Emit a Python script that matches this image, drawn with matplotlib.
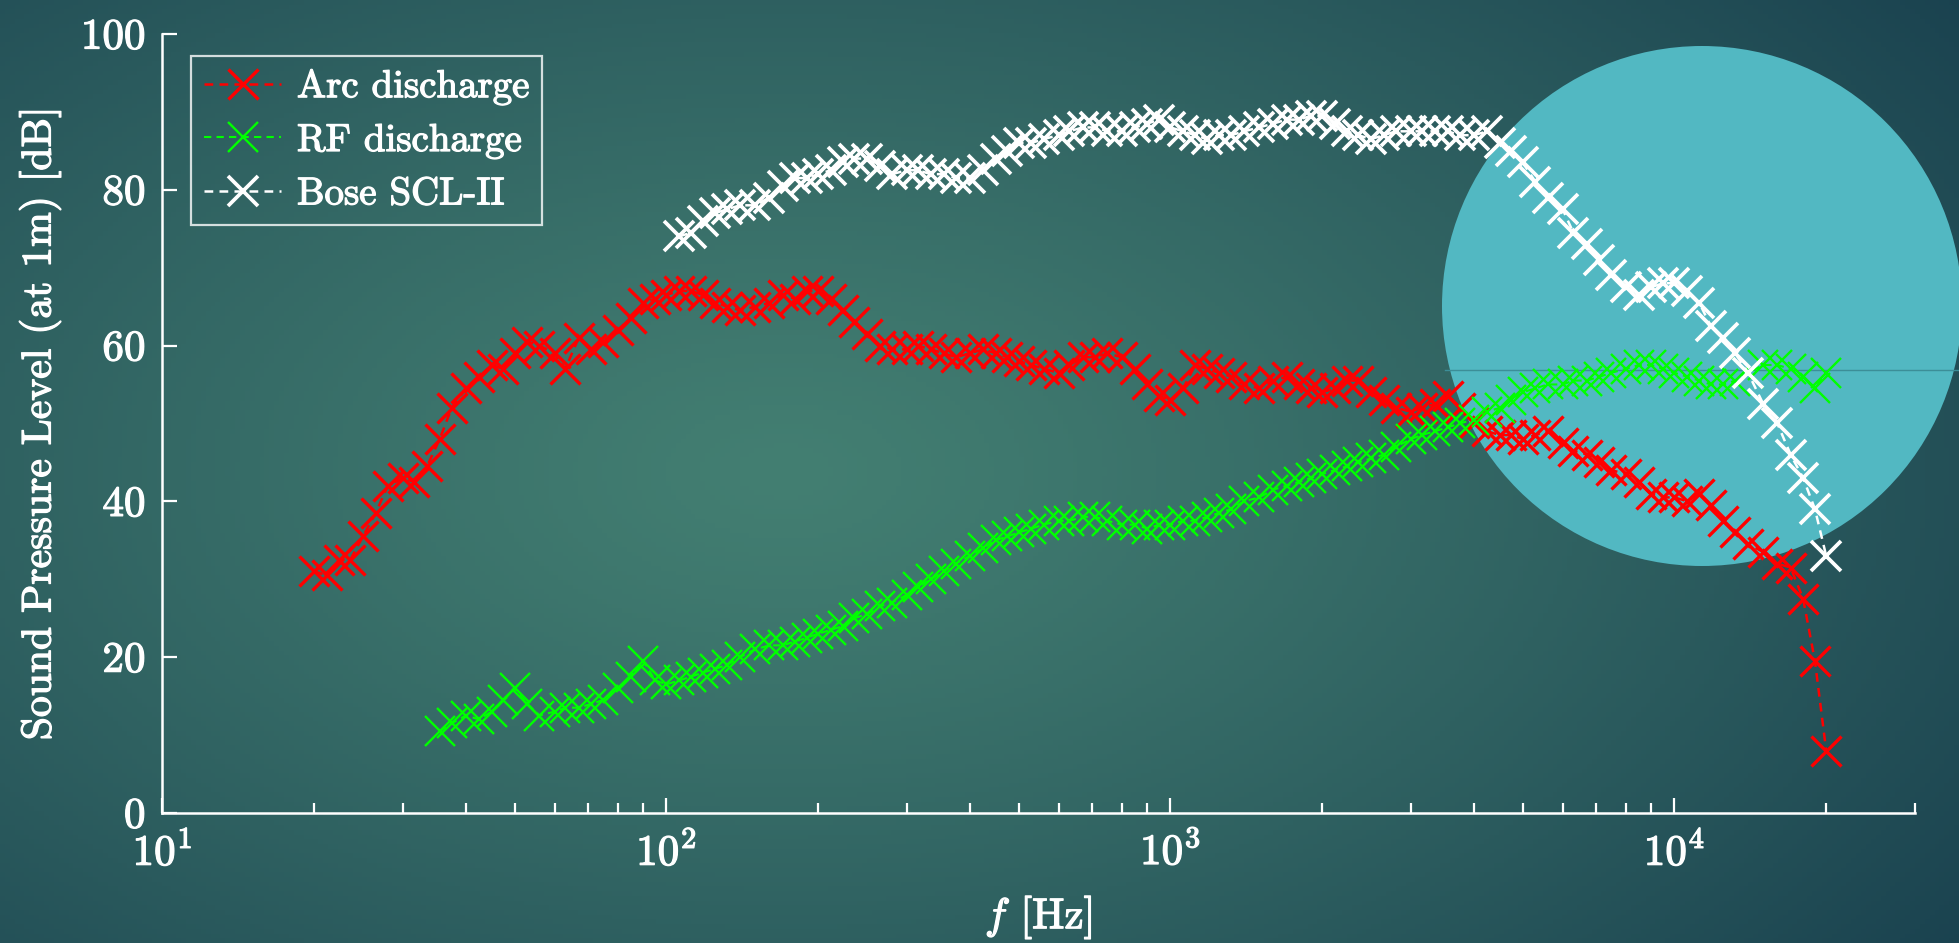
import numpy as np
import matplotlib
matplotlib.use("Agg")
import matplotlib.pyplot as plt
import matplotlib.patheffects as pe
from matplotlib.patches import Circle
from matplotlib.colors import to_rgb

plt.rcParams['font.family'] = ['cmr10', 'DejaVu Serif']
plt.rcParams['mathtext.fontset'] = 'cm'
plt.rcParams['axes.formatter.use_mathtext'] = True
plt.rcParams['axes.unicode_minus'] = False

# 1/12-octave frequency grid [Hz]
freq = [20, 21.2, 22.4, 23.6, 25, 26.5, 28, 30, 31.5, 33.5, 35.5, 37.5, 40, 42.5,
        45, 47.5, 50, 53, 56, 60, 63, 67, 71, 75, 80, 85, 90, 95,
        100, 106, 112, 118, 125, 132, 140, 150, 160, 170, 180, 190, 200, 212,
        224, 236, 250, 265, 280, 300, 315, 335, 355, 375, 400, 425, 450, 475,
        500, 530, 560, 600, 630, 670, 710, 750, 800, 850, 900, 950,
        1000, 1060, 1120, 1180, 1250, 1320, 1400, 1500, 1600, 1700, 1800, 1900,
        2000, 2120, 2240, 2360, 2500, 2650, 2800, 3000, 3150, 3350, 3550, 3750,
        4000, 4250, 4500, 4750, 5000, 5300, 5600, 6000, 6300, 6700, 7100, 7500,
        8000, 8500, 9000, 9500,
        10000, 10600, 11200, 11800, 12500, 13200, 14000, 15000, 16000, 17000,
        18000, 19000, 20000]

# Arc discharge, 20 Hz - 20 kHz
spl_arc = [31, 30.5, 32.5, 32.5, 35.5, 38.5, 42, 43, 42.5, 44.5, 48, 52, 54.5, 56,
           57.5, 57, 59, 60.5, 60, 59, 57, 61, 59.5, 60.5, 62, 63.5, 65.5, 66,
           66.5, 67, 67, 66.5, 65.5, 65, 64.5, 65, 65.5, 66.5, 66, 67, 67, 66,
           64.5, 63, 61.5, 60, 59.5, 59.5, 60, 59.5, 59, 58.5, 59, 59.5, 59, 58.5,
           58, 57.5, 57, 56.5, 57.5, 58.5, 58.5, 59, 58.5, 57, 55, 53.5,
           53, 54.5, 57.5, 57, 56.5, 56, 55, 54.5, 55.5, 56, 55, 54.5,
           54, 54.5, 55.5, 55.5, 54, 53, 52, 51.5, 52, 52.5, 53.5, 52,
           50, 49, 48.5, 48.5, 48, 48.5, 49, 47.5, 46.5, 46, 45, 44,
           43.5, 42.5, 41, 40.5,
           40.5, 40, 41, 39.5, 37.5, 36, 34.5, 33.5, 32, 31.5,
           27.5, 19.5, 8]

# RF discharge, from 35.5 Hz
f_rf = freq[10:]
spl_rf = [10.5, 11.5, 12.5, 12, 13, 14.5, 16, 14, 12.5, 13, 13.5, 13.5, 14, 14.5,
          16, 17.5, 19.5, 17,
          16.5, 17, 17.5, 18, 18.5, 19, 20, 21, 21.5, 21.5, 22, 22.5, 23, 23.5,
          24, 25, 25.5, 26.5, 27, 28, 29, 30, 31, 32, 33, 34, 35, 35.5,
          36, 36.5, 37, 37.5, 37.5, 38, 38, 37.5, 37, 37, 36.5, 37,
          37, 37.5, 37.5, 38, 38.5, 39, 40, 40.5, 41.5, 42, 42.5, 43,
          43.5, 44, 44.5, 45, 45.5, 46, 47, 48, 48.5, 49, 49.5, 50,
          50.5, 51.5, 52, 53, 54, 54.5, 55, 55, 55.5, 55.5, 56, 56.5,
          57, 57.5, 57.5, 57,
          56.5, 56, 55.5, 55, 55, 55.5, 56.5, 57.5, 57.5, 57,
          56, 54.5, 56.5]

# Bose SCL-II, from 106 Hz
f_bose = freq[29:]
spl_bose = [74, 74.5, 76, 77, 77.5, 78, 78, 79, 80.5, 81.5, 81.5, 82, 82.5,
            83.5, 84, 84, 83, 82, 82.5, 82.5, 82, 82, 81.5, 81.5, 82.5, 84, 85,
            86, 86, 86.5, 87, 87.5, 88, 88, 87.5, 87.5, 88, 88.5, 89,
            88, 87.5, 87, 86.5, 87, 87, 87.5, 88, 88.5, 89, 89, 89.5,
            89.5, 88.5, 87.5, 87, 86.5, 87, 87.5, 87.5, 87.5, 87.5, 87.5, 87,
            87, 87.5, 86, 85, 83.5, 81, 79, 77.5, 74.5, 73, 71, 69,
            67.5, 66.5, 67.5, 68,
            68, 67, 65.5, 62.5, 61, 59, 56.5, 52.5, 50, 46,
            43, 39, 33]

W, H = 1959, 943
fig = plt.figure(figsize=(W / 100, H / 100), dpi=100)

# backdrop: soft radial teal gradient with a cyan disc
bg = fig.add_axes([0, 0, 1, 1], zorder=0)
bg.set_xlim(0, W)
bg.set_ylim(0, H)
bg.axis('off')
gx, gy = np.meshgrid(np.linspace(0, 1, 400), np.linspace(0, 1, 200))
d = np.sqrt(((gx - 0.40) / 0.80) ** 2 + ((gy - 0.50) / 0.95) ** 2)
t = np.clip(d, 0, 1) ** 1.2
c_mid = np.array(to_rgb('#437f72'))
c_edge = np.array(to_rgb('#163c4c'))
img = c_mid * (1 - t[..., None]) + c_edge * t[..., None]
bg.imshow(img, extent=[0, W, 0, H], origin='lower', aspect='auto')
bg.add_patch(Circle((1702, H - 306), 260, color='#52b8c2', lw=0))
bg.plot([1445, W], [H - 370, H - 370], color='#3c8e98', lw=1)

ax = fig.add_axes([0.0829, 0.138, 0.9775 - 0.0829, 0.964 - 0.138], zorder=1)
ax.patch.set_alpha(0)

dash = (0, (3.5, 2.5))
ax.plot(freq, spl_arc, ls=dash, marker='x', color='#ff0000', ms=21, mew=2.4,
        lw=1.8, label='Arc discharge')
ax.plot(f_rf, spl_rf, ls=dash, marker='x', color='#00ff00', ms=21, mew=1.7,
        lw=1.5, label='RF discharge')
ax.plot(f_bose, spl_bose, ls=dash, marker='x', color='white', ms=21, mew=2.7,
        lw=1.8, label='Bose SCL-II')

ax.set_xscale('log')
ax.set_xlim(10, 3e4)
ax.set_ylim(0, 100)
ax.set_yticks([0, 20, 40, 60, 80, 100])

for s in ['top', 'right']:
    ax.spines[s].set_visible(False)
for s in ['left', 'bottom']:
    ax.spines[s].set_color('white')
    ax.spines[s].set_linewidth(1.8)

ax.tick_params(which='both', direction='in', colors='white', labelsize=31)
ax.tick_params(which='major', length=11, width=1.6, pad=12)
ax.tick_params(which='minor', length=7, width=1.6)

ax.set_xlabel(r'$f$ [Hz]', color='white', fontsize=31, labelpad=16)
ax.set_ylabel('Sound Pressure Level (at 1m) [dB]', color='white', fontsize=30,
              labelpad=14)

leg = ax.legend(loc='upper left', bbox_to_anchor=(0.0976, 0.9404),
                bbox_transform=fig.transFigure, borderaxespad=0,
                fontsize=28, frameon=True, fancybox=False, numpoints=1,
                handlelength=2.0, handletextpad=0.4, labelspacing=0.45,
                borderpad=0.32)
leg.get_frame().set_facecolor('none')
leg.get_frame().set_edgecolor('white')
leg.get_frame().set_linewidth(1.6)
for txt in leg.get_texts():
    txt.set_color('white')

# heavier white lettering
stroke = [pe.withStroke(linewidth=0.9, foreground='white')]
texts = leg.get_texts() + [ax.xaxis.label, ax.yaxis.label]
texts += ax.get_xticklabels() + ax.get_yticklabels()
for txt in texts:
    txt.set_path_effects(stroke)

fig.savefig('out.png', dpi=100)
